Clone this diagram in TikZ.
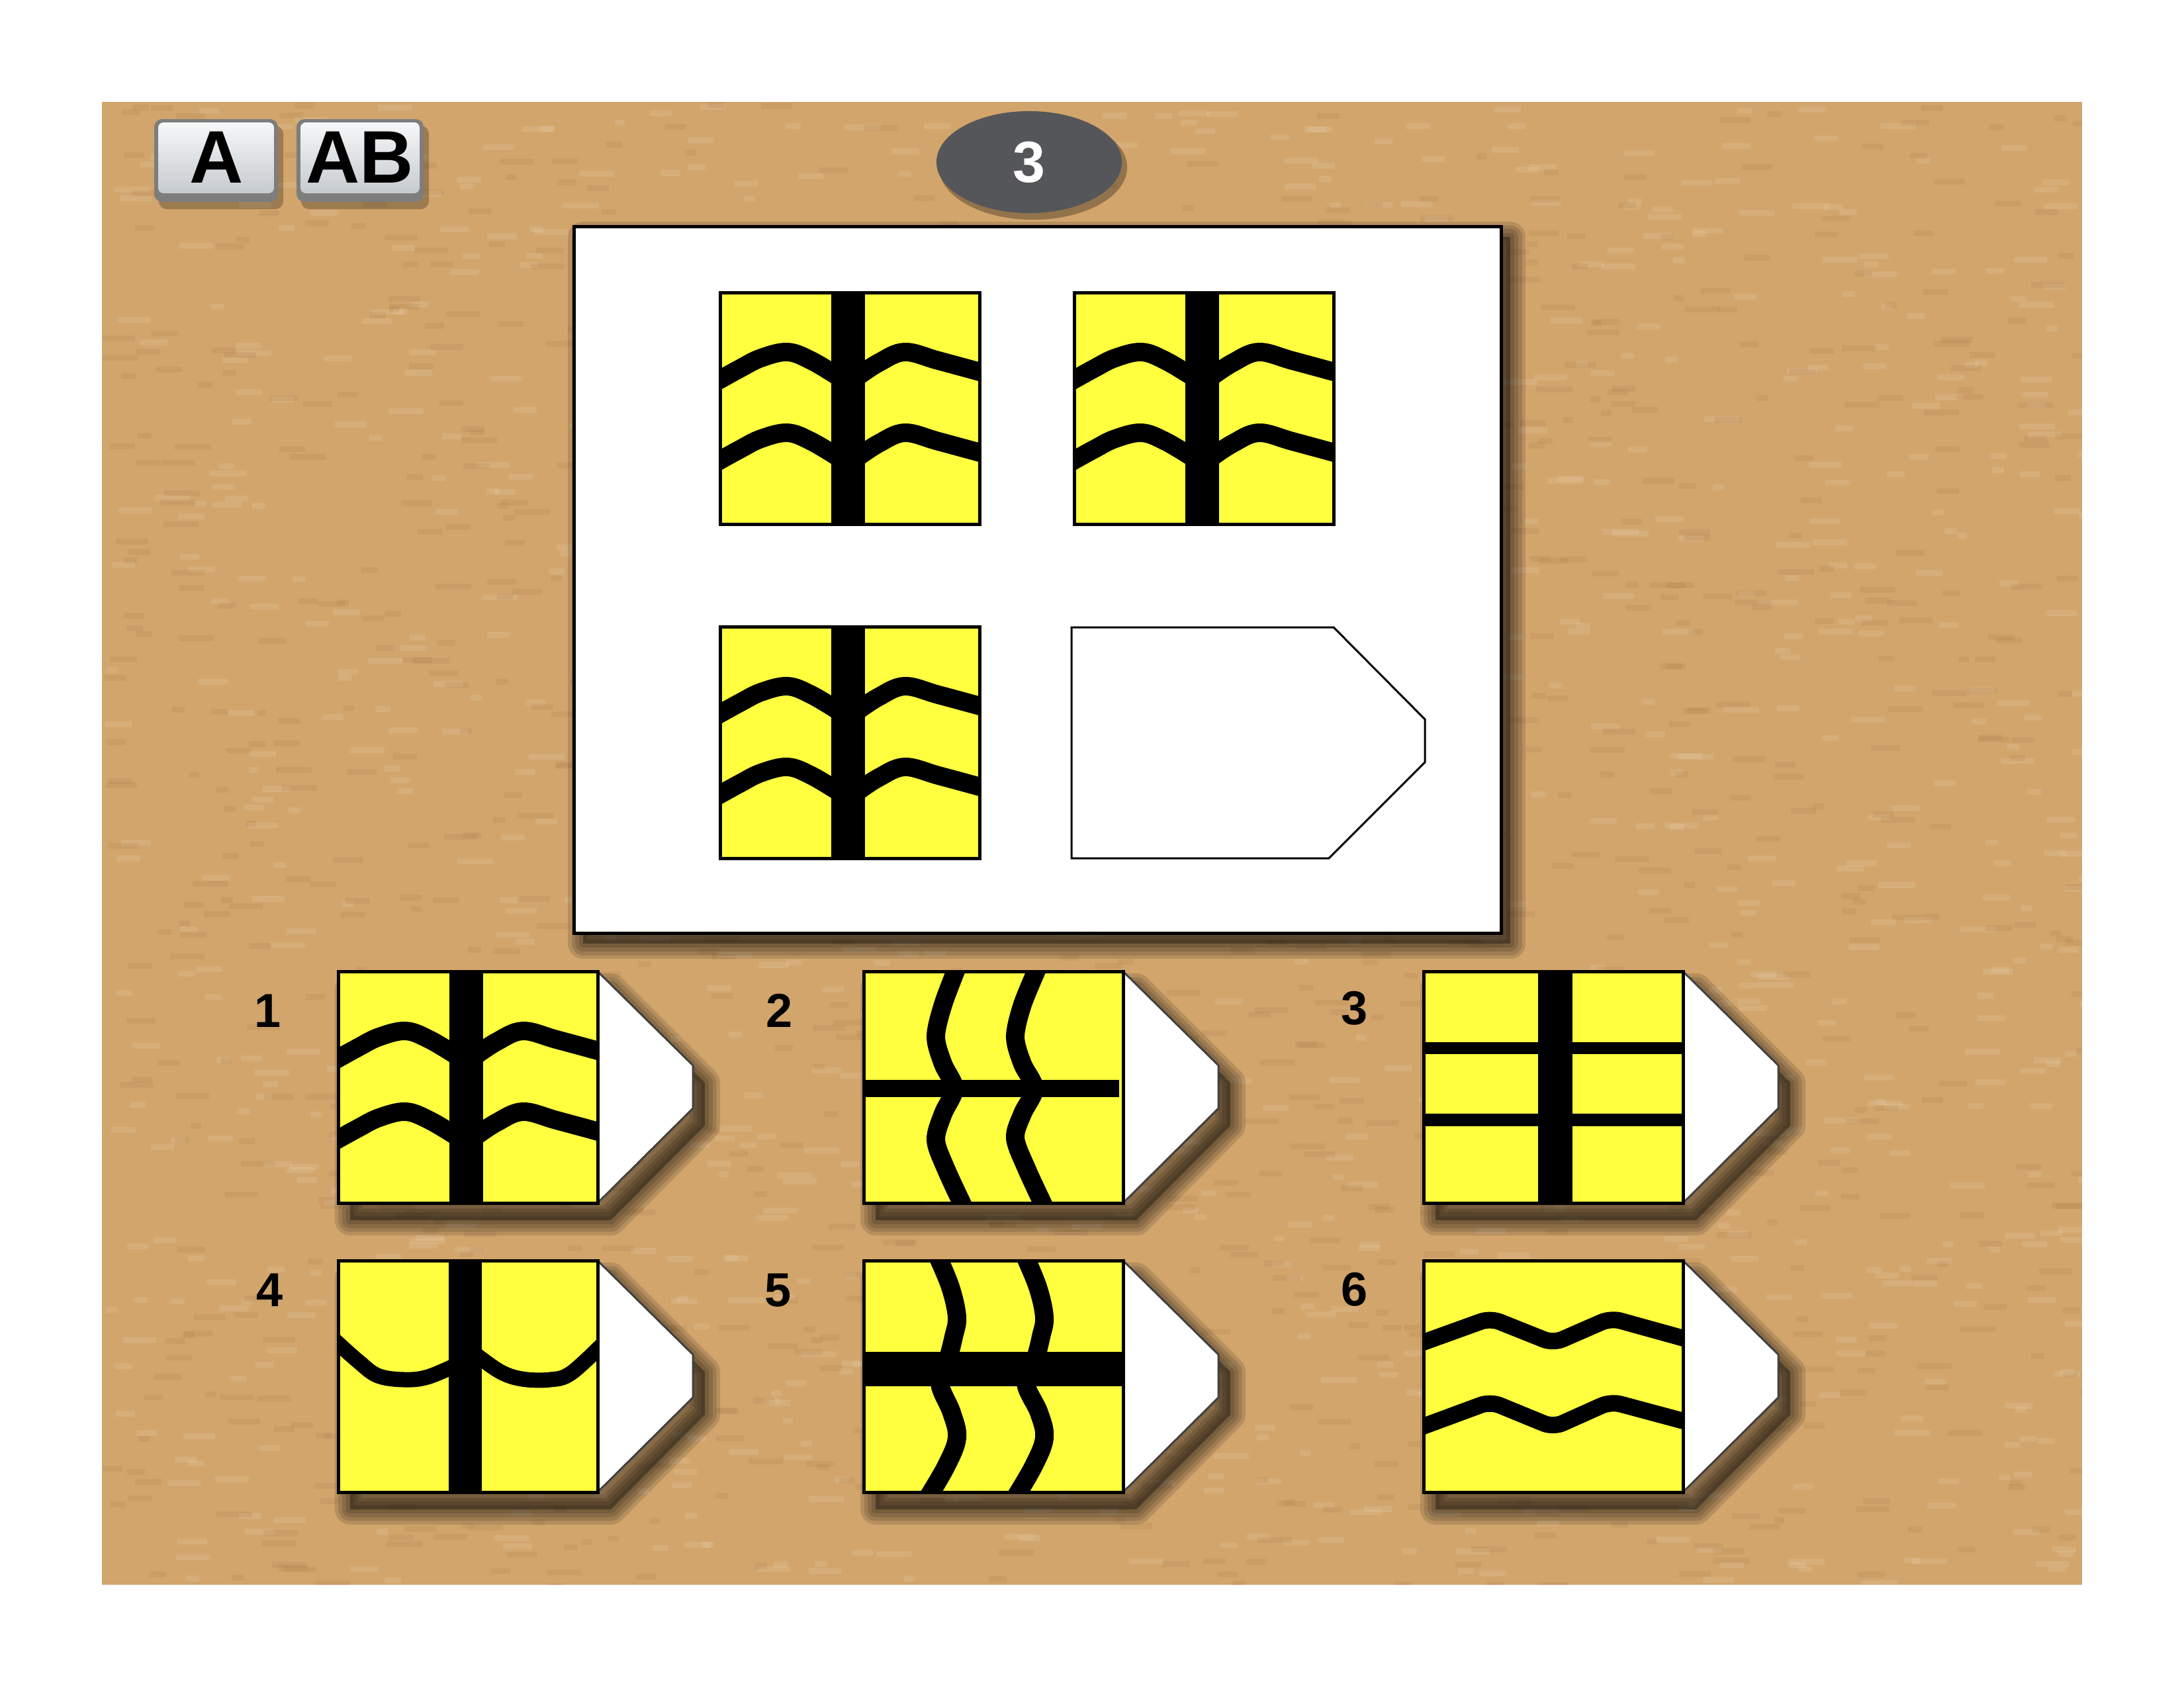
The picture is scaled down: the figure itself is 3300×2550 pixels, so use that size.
\documentclass[tikz,border=0pt]{standalone}
\usepackage{fontspec}
\setmainfont{Liberation Sans}
\usetikzlibrary{shapes.geometric}
\definecolor{bgtan}{RGB}{210,165,108}
\definecolor{bgdark}{RGB}{150,105,60}
\definecolor{ylw}{RGB}{255,255,64}
\definecolor{ovalgray}{RGB}{85,86,90}
\definecolor{btnedge}{RGB}{125,125,125}
\definecolor{btntop}{RGB}{246,247,248}
\definecolor{btnbot}{RGB}{198,203,207}
\tikzset{
  wave/.style={draw=black, line width=2.8mm, line join=round},
  boxframe/.style={draw=black, line width=0.5mm},
  lbl/.style={font=\bfseries\fontsize{20.5}{22}\selectfont, text=black, inner sep=0pt},
  btntext/.style={font=\bfseries\fontsize{32}{34}\selectfont, text=black, inner sep=0pt},
  pics/tagshape/.style={code={
    \foreach \w in {4.6,3.5,2.4,1.2}{
      \draw[black, line width=\w mm, opacity=0.13, line join=round, shift={(18,26)}]
        (0,0) -- (394,0) -- (536,142) -- (536,207) -- (394,350) -- (0,350) -- cycle;
    }
    \fill[black, opacity=0.35, shift={(18,26)}]
        (0,0) -- (394,0) -- (536,142) -- (536,207) -- (394,350) -- (0,350) -- cycle;
    \fill[white] (0,0) -- (394,0) -- (536,142) -- (536,207) -- (394,350) -- (0,350) -- cycle;
    \draw[black!75, line width=0.3mm, line join=round] (392,0) -- (536,142) -- (536,207) -- (392,350);
  }},
  pics/pattree/.style={code={
    \fill[ylw] (0,0) rectangle (392,350);
    \begin{scope}
      \clip (0,0) rectangle (392,350);
      \foreach \d in {0,122}{
        \draw[wave] plot[smooth, tension=0.6] coordinates {(-8,136+\d) (30,115+\d) (62,99+\d) (102,90+\d) (138,103+\d) (180,128+\d)};
        \draw[wave] plot[smooth, tension=0.6] coordinates {(208,127+\d) (240,106+\d) (279,90+\d) (330,103+\d) (400,122+\d)};
      }
      \fill[black] (168,0) rectangle (219,350);
    \end{scope}
    \draw[boxframe] (0,0) rectangle (392,350);
  }},
  pics/pattwo/.style={code={
    \fill[ylw] (0,0) rectangle (392,350);
    \begin{scope}
      \clip (0,0) rectangle (392,350);
      \draw[wave] plot[smooth, tension=0.5] coordinates {(142,-8) (120,50) (109,99) (120,140) (137,177) (120,215) (109,255) (125,300) (152,358)};
      \draw[wave] plot[smooth, tension=0.5] coordinates {(264,-8) (240,50) (229,99) (240,140) (258,177) (240,215) (229,252) (247,300) (274,358)};
      \fill[black] (0,164) rectangle (386,190);
    \end{scope}
    \draw[boxframe] (0,0) rectangle (392,350);
  }},
  pics/patgrid/.style={code={
    \fill[ylw] (0,0) rectangle (392,350);
    \fill[black] (173,0) rectangle (225,350);
    \fill[black] (0,107) rectangle (392,125);
    \fill[black] (0,215) rectangle (392,234);
    \draw[boxframe] (0,0) rectangle (392,350);
  }},
  pics/patcup/.style={code={
    \fill[ylw] (0,0) rectangle (392,350);
    \begin{scope}
      \clip (0,0) rectangle (392,350);
      \draw[wave, line width=2.3mm] plot[smooth, tension=0.6] coordinates {(-8,118) (30,152) (60,174) (100,180) (135,176) (178,158)};
      \draw[wave, line width=2.3mm] plot[smooth, tension=0.6] coordinates {(208,142) (245,168) (278,179) (320,180) (352,170) (402,124)};
      \fill[black] (167,0) rectangle (217,350);
    \end{scope}
    \draw[boxframe] (0,0) rectangle (392,350);
  }},
  pics/patfive/.style={code={
    \fill[ylw] (0,0) rectangle (392,350);
    \begin{scope}
      \clip (0,0) rectangle (392,350);
      \draw[wave] plot[smooth, tension=0.6] coordinates {(111,-8) (131,40) (141,85) (136,115) (127,150) (115,185) (133,230) (141,268) (125,310) (97,358)};
      \draw[wave] plot[smooth, tension=0.6] coordinates {(243,-8) (263,40) (273,85) (268,115) (259,150) (245,185) (265,230) (273,268) (257,310) (229,358)};
      \fill[black] (0,138) rectangle (392,190);
    \end{scope}
    \draw[boxframe] (0,0) rectangle (392,350);
  }},
  pics/patzig/.style={code={
    \fill[ylw] (0,0) rectangle (392,350);
    \begin{scope}
      \clip (0,0) rectangle (392,350);
      \draw[wave, line width=2.5mm, rounded corners=1.5mm] (-10,127) -- (101,87) -- (196,125) -- (283,87) -- (402,120);
      \draw[wave, line width=2.5mm, rounded corners=1.5mm] (-10,254) -- (101,213) -- (196,252) -- (283,213) -- (402,245);
    \end{scope}
    \draw[boxframe] (0,0) rectangle (392,350);
  }}
}
\begin{document}
\begin{tikzpicture}[x=0.01cm, y=-0.01cm]
\useasboundingbox (0,0) rectangle (3300,2550);
\fill[white] (0,0) rectangle (3300,2550);
% background
\fill[bgtan] (154,154) rectangle (3146,2395);
\begin{scope}
  \clip (154,154) rectangle (3146,2395);
  \pgfmathsetseed{42}
  \foreach \i in {1,...,1100}{
    \pgfmathsetmacro{\rx}{154+2992*rnd}
    \pgfmathsetmacro{\ry}{154+2241*rnd}
    \pgfmathsetmacro{\rw}{15+40*rnd}
    \fill[white, opacity=0.10] (\rx,\ry) rectangle ++(\rw,9);
  }
  \foreach \i in {1,...,1100}{
    \pgfmathsetmacro{\rx}{154+2992*rnd}
    \pgfmathsetmacro{\ry}{154+2241*rnd}
    \pgfmathsetmacro{\rw}{15+40*rnd}
    \fill[bgdark, opacity=0.12] (\rx,\ry) rectangle ++(\rw,9);
  }
\end{scope}
% buttons
\fill[black, opacity=0.25, rounded corners=1.2mm] (240,190) rectangle (428,316);
\fill[btnedge, rounded corners=1.2mm] (233,180) rectangle (420,305);
\shade[top color=btntop, bottom color=btnbot, rounded corners=0.8mm] (239,185) rectangle (414,292);
\node[btntext] (ta) at (327,238) {A};
\fill[black, opacity=0.25, rounded corners=1.2mm] (455,190) rectangle (648,316);
\fill[btnedge, rounded corners=1.2mm] (448,180) rectangle (640,305);
\shade[top color=btntop, bottom color=btnbot, rounded corners=0.8mm] (454,185) rectangle (634,292);
\node[btntext] (tab) at (544,238) {AB};
% number oval
\fill[black, opacity=0.30] (1561,253) ellipse [x radius=1.42cm, y radius=0.79cm];
\node[ellipse, fill=ovalgray, minimum width=2.8cm, minimum height=1.54cm, inner sep=0pt,
      text=white, font=\bfseries\fontsize{25}{27}\selectfont] (num) at (1555,245) {3};
% main panel shadow
\foreach \w in {4.6,3.5,2.4,1.2}{
  \draw[black, line width=\w mm, opacity=0.13, line join=round] (881,358) rectangle (2282,1426);
}
\fill[black, opacity=0.35] (881,358) rectangle (2282,1426);
\fill[white] (867,342) rectangle (2268,1410);
\draw[black, line width=0.5mm] (867,342) rectangle (2268,1410);
% puzzle matrix
\pic at (1088,442) {pattree};
\pic at (1623,442) {pattree};
\pic at (1088,947) {pattree};
\draw[black, line width=0.3mm, fill=white, line join=miter]
  (1619,948) -- (2015,948) -- (2153,1087) -- (2153,1152) -- (2008,1297) -- (1619,1297) -- cycle;
% answer options
\pic at (511,1468) {tagshape};  \pic at (511,1468) {pattree};
\pic at (1305,1468) {tagshape}; \pic at (1305,1468) {pattwo};
\pic at (2151,1468) {tagshape}; \pic at (2151,1468) {patgrid};
\pic at (511,1905) {tagshape};  \pic at (511,1905) {patcup};
\pic at (1305,1905) {tagshape}; \pic at (1305,1905) {patfive};
\pic at (2151,1905) {tagshape}; \pic at (2151,1905) {patzig};
% labels
\node[lbl] (l1) at (405,1528) {1};
\node[lbl] (l2) at (1178,1527) {2};
\node[lbl] (l3) at (2047,1524) {3};
\node[lbl] (l4) at (408,1950) {4};
\node[lbl] (l5) at (1176,1950) {5};
\node[lbl] (l6) at (2047,1949) {6};
\end{tikzpicture}
\end{document}
